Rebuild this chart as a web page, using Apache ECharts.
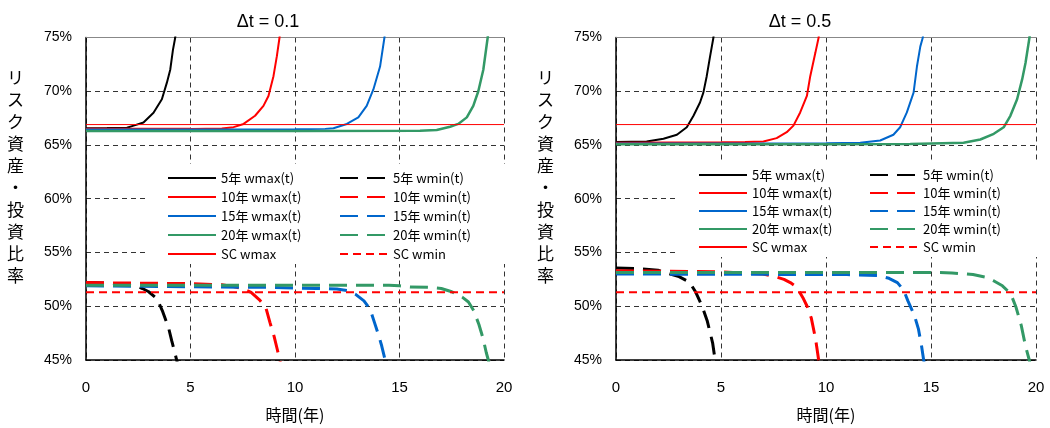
<!DOCTYPE html>
<html>
<head>
<meta charset="utf-8">
<script src="https://cdn.jsdelivr.net/npm/echarts@6/dist/echarts.min.js"></script>
<style>
html,body{margin:0;padding:0;background:#fff;}
#c{width:1050px;height:428px;}
</style>
</head>
<body>
<div id="c"></div>
<script>
// ---- Data (values in %) ----
const panelTitles = ['Δt = 0.1', 'Δt = 0.5'];
const xTicks = [0, 5, 10, 15, 20];
const yTicks = [45, 50, 55, 60, 65, 70, 75];
const yAxisName = 'リスク資産・投資比率';
const xAxisName = '時間(年)';

const seriesNames = ['5年 wmax(t)', '10年 wmax(t)', '15年 wmax(t)', '20年 wmax(t)',
                     '5年 wmin(t)', '10年 wmin(t)', '15年 wmin(t)', '20年 wmin(t)',
                     'SC wmax', 'SC wmin'];

// Δt = 0.1
const p1_wmax5  = [[0,66.55],[1,66.57],[1.96,66.6],[2.28,66.8],[2.75,67.1],[3.23,68.0],[3.63,69.25],[3.87,70.8],[4.03,72.0],[4.16,73.85],[4.27,75.0],[4.35,76.5]];
const p1_wmax10 = [[0,66.5],[5,66.5],[6.5,66.53],[7.06,66.66],[7.54,66.96],[8.09,67.72],[8.49,68.64],[8.73,69.56],[8.97,71.4],[9.13,73.24],[9.26,75.0],[9.35,76.5]];
const p1_wmax15 = [[0,66.45],[5,66.45],[10,66.47],[11.44,66.5],[11.84,66.56],[12.48,66.96],[13.03,67.57],[13.43,68.64],[13.75,70.17],[14.07,72.3],[14.28,75.0],[14.36,76.5]];
const p1_wmax20 = [[0,66.3],[5,66.3],[10,66.3],[15.98,66.32],[16.78,66.4],[17.42,66.7],[17.81,66.96],[18.22,67.57],[18.53,68.64],[18.77,70.0],[19.01,72.0],[19.22,75.0],[19.3,76.5]];
const p1_wmin5  = [[0,52.2],[1,52.15],[2,52.0],[2.5,51.8],[2.7,51.65],[3.0,51.35],[3.4,50.7],[3.65,49.6],[3.95,48.0],[4.1,46.8],[4.3,45.3],[4.4,44.5]];
const p1_wmin10 = [[0,52.2],[5,52.1],[6.5,52.0],[7,51.85],[7.5,51.65],[7.9,51.3],[8.3,50.6],[8.6,49.9],[8.8,48.5],[9.0,47.2],[9.15,46.0],[9.27,45.0],[9.35,44.3]];
const p1_wmin15 = [[0,51.9],[9,51.75],[11,51.65],[12,51.6],[12.5,51.45],[12.9,51.1],[13.3,50.5],[13.6,49.7],[13.8,48.5],[14.0,47.3],[14.15,46.3],[14.3,45.1],[14.4,44.3]];
const p1_wmin20 = [[0,51.95],[14.5,51.95],[15,51.9],[15.5,51.8],[16.5,51.75],[17,51.65],[17.5,51.35],[18.0,50.85],[18.3,50.4],[18.55,49.6],[18.8,48.3],[19.0,47.0],[19.15,45.7],[19.25,45.0],[19.3,44.5]];

// Δt = 0.5
const p2_wmax5  = [[0,65.27],[1.46,65.33],[2.26,65.58],[2.9,65.95],[3.37,66.65],[3.69,67.72],[4.0,68.95],[4.16,69.87],[4.32,71.4],[4.48,73.24],[4.64,75.0],[4.72,76.5]];
const p2_wmax10 = [[0,65.22],[5,65.25],[6.15,65.27],[7.02,65.33],[7.65,65.64],[8.13,66.19],[8.45,66.8],[8.77,68.03],[9.09,69.56],[9.25,71.4],[9.49,73.55],[9.65,75.0],[9.72,76.5]];
const p2_wmax15 = [[0,65.15],[5,65.15],[10,65.17],[11.63,65.21],[12.58,65.42],[13.21,65.95],[13.53,66.65],[13.85,68.03],[14.17,69.87],[14.33,72.3],[14.49,74.15],[14.61,75.0],[14.68,76.5]];
const p2_wmax20 = [[0,65.06],[5,65.06],[10,65.06],[14.01,65.1],[16.55,65.21],[17.35,65.51],[17.99,66.04],[18.46,66.65],[18.78,67.72],[19.1,69.26],[19.34,71.1],[19.5,72.63],[19.69,75.0],[19.76,76.5]];
const p2_wmin5  = [[0,53.55],[1,53.5],[2,53.35],[2.5,53.05],[3.0,52.75],[3.5,52.25],[3.8,51.3],[4.1,50.0],[4.35,48.6],[4.6,46.6],[4.72,45.0],[4.8,44.3]];
const p2_wmin10 = [[0,53.3],[5,53.2],[7,53.0],[7.6,52.75],[8.0,52.5],[8.3,52.2],[8.6,51.8],[8.9,50.8],[9.1,50.0],[9.3,48.9],[9.5,47.0],[9.65,45.0],[9.72,44.2]];
const p2_wmin15 = [[0,53.0],[11,52.95],[12.5,52.85],[13.0,52.6],[13.4,52.2],[13.7,51.5],[13.9,50.5],[14.2,49.2],[14.4,47.9],[14.55,46.3],[14.65,45.0],[14.75,44.0]];
const p2_wmin20 = [[0,53.15],[15,53.15],[16,53.1],[17,52.95],[17.6,52.7],[18.0,52.35],[18.4,51.9],[18.8,51.15],[19.05,49.9],[19.3,48.2],[19.5,46.3],[19.68,45.0],[19.75,44.3]];

// Sample-constant levels (both panels)
const scWmax = [[0,66.9],[20,66.9]];
const scWmin = [[0,51.3],[20,51.3]];

// ---- Chart ----
const colors = ['#000000', '#FF0000', '#0066CC', '#339966'];
const panels = [
  {title: panelTitles[0], wmax: [p1_wmax5, p1_wmax10, p1_wmax15, p1_wmax20], wmin: [p1_wmin5, p1_wmin10, p1_wmin15, p1_wmin20]},
  {title: panelTitles[1], wmax: [p2_wmax5, p2_wmax10, p2_wmax15, p2_wmax20], wmin: [p2_wmin5, p2_wmin10, p2_wmin15, p2_wmin20]}
];
const gridPos = [{left: 86, width: 418}, {left: 616, width: 420}];
const titleCenter = [263, 795];
const legendPos = [
  {left: 147, top: 164, padding: [7, 8, 3, 20], itemGap: 5},
  {left: 677, top: 163, padding: [5, 8, 3, 21], itemGap: 4}
];
const labelFont = 'Liberation Sans';
const jpFont = '"Noto Sans CJK JP", sans-serif';

const option = {
  animation: false,
  backgroundColor: '#fff',
  title: [], grid: [], xAxis: [], yAxis: [], legend: [], series: []
};

const legendOrder = [];
for (let i = 0; i < 4; i++) { legendOrder.push(seriesNames[i], seriesNames[i + 4]); }
legendOrder.push(seriesNames[8], seriesNames[9]);

panels.forEach((p, k) => {
  option.title.push({
    text: p.title, left: titleCenter[k], top: 8, textAlign: 'center',
    textStyle: {fontFamily: labelFont, fontSize: 18, fontWeight: 'normal', color: '#000'}
  });
  option.grid.push({left: gridPos[k].left, width: gridPos[k].width, top: 37.5, height: 326.5});
  option.xAxis.push({
    type: 'value', gridIndex: k, min: 0, max: 20, interval: 5,
    name: xAxisName, nameLocation: 'middle', nameGap: 47,
    nameTextStyle: {fontFamily: jpFont, fontSize: 16, color: '#000'},
    axisLine: {show: true, onZero: false, lineStyle: {color: '#000', width: 1.5}},
    axisTick: {show: false},
    axisLabel: {fontFamily: labelFont, fontSize: 15, color: '#000', margin: 20},
    splitLine: {show: true, lineStyle: {color: '#333', type: [5, 4], width: 1}}
  });
  option.yAxis.push({
    type: 'value', gridIndex: k, min: 45, max: 75, interval: 5,
    name: yAxisName.split('').join('\n') + '\n\u3000\n\u3000', nameLocation: 'middle', nameRotate: 0, nameGap: 62,
    nameTextStyle: {fontFamily: jpFont, fontSize: 17, color: '#000', lineHeight: 22},
    axisLine: {show: true, onZero: false, lineStyle: {color: '#000', width: 1.5}},
    axisTick: {show: false},
    axisLabel: {fontFamily: labelFont, fontSize: 14, color: '#000', margin: 14, formatter: '{value}%'},
    splitLine: {show: true, lineStyle: {color: '#333', type: [5, 4], width: 1}}
  });
  option.legend.push({
    data: legendOrder, orient: 'horizontal',
    left: legendPos[k].left, top: legendPos[k].top, padding: legendPos[k].padding,
    width: 340, itemGap: legendPos[k].itemGap, itemWidth: 48, itemHeight: 14,
    backgroundColor: '#fff', selectedMode: false,
    itemStyle: {opacity: 0},
    textStyle: {fontFamily: jpFont, fontSize: 13, color: '#000', width: 113, lineHeight: 14}
  });
  for (let i = 0; i < 4; i++) {
    option.series.push({
      name: seriesNames[i], type: 'line', xAxisIndex: k, yAxisIndex: k,
      data: p.wmax[i], showSymbol: false, symbol: 'none', smooth: false,
      lineStyle: {color: colors[i], width: i === 3 ? 2.5 : 2}, itemStyle: {color: colors[i]}, z: 3 + i
    });
  }
  for (let i = 0; i < 4; i++) {
    option.series.push({
      name: seriesNames[i + 4], type: 'line', xAxisIndex: k, yAxisIndex: k,
      data: p.wmin[i], showSymbol: false, symbol: 'none',
      lineStyle: {color: colors[i], width: 3, type: [18, 9]}, itemStyle: {color: colors[i]}, z: 3 + i
    });
  }
  option.series.push({
    name: seriesNames[8], type: 'line', xAxisIndex: k, yAxisIndex: k,
    data: scWmax, showSymbol: false, symbol: 'none',
    lineStyle: {color: '#FF0000', width: 1}, itemStyle: {color: '#FF0000'}, z: 8
  });
  option.series.push({
    name: seriesNames[9], type: 'line', xAxisIndex: k, yAxisIndex: k,
    data: scWmin, showSymbol: false, symbol: 'none',
    lineStyle: {color: '#FF0000', width: 2, type: [8, 5]}, itemStyle: {color: '#FF0000'}, z: 8
  });
});

// top frame lines (solid gray) via secondary x axes
[0, 1].forEach(k => {
  option.xAxis.push({
    type: 'value', gridIndex: k, position: 'top', min: 0, max: 20, interval: 5,
    axisLine: {show: true, onZero: false, lineStyle: {color: '#888', width: 1}},
    axisTick: {show: false}, axisLabel: {show: false}, splitLine: {show: false}
  });
});

const chart = echarts.init(document.getElementById('c'), null, {renderer: 'canvas'});
chart.setOption(option);
</script>
</body>
</html>
